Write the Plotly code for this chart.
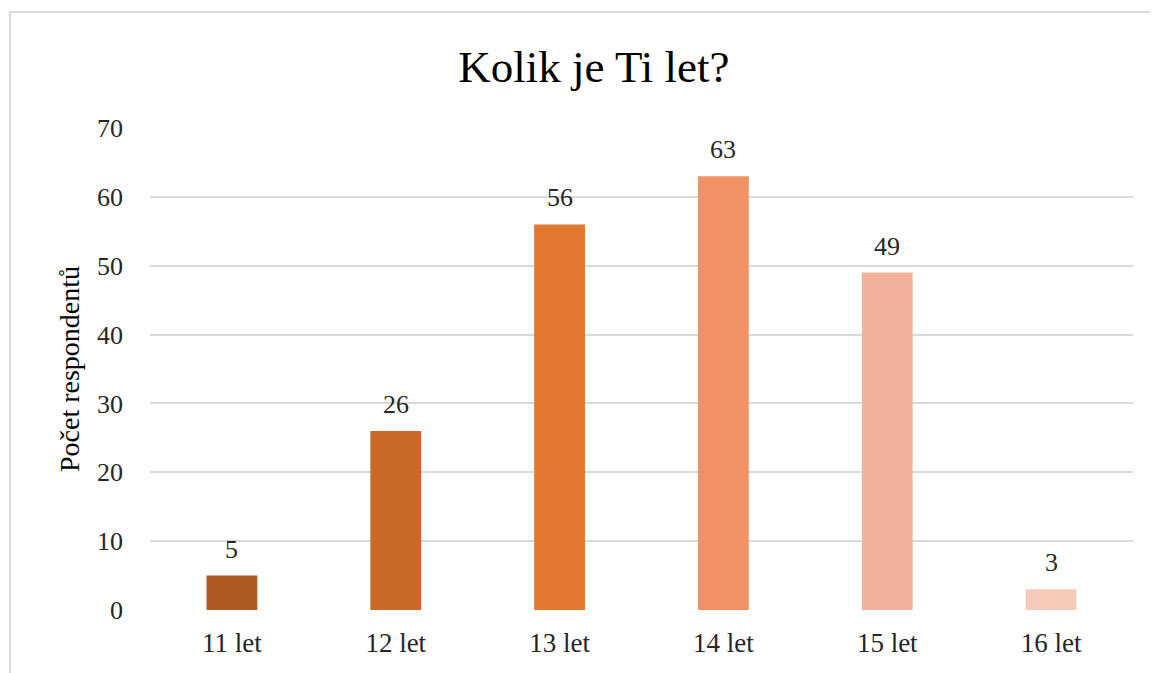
import plotly.graph_objects as go

categories = ["11 let", "12 let", "13 let", "14 let", "15 let", "16 let"]
values = [5, 26, 56, 63, 49, 3]
colors = ["#AE5A22", "#C96A29", "#E0782F", "#F09265", "#F2B19B", "#F6C9B9"]
y_ticks = [0, 10, 20, 30, 40, 50, 60, 70]

font_family = "Liberation Serif, Times New Roman, serif"
text_color = "#262626"

fig = go.Figure(go.Bar(
    x=categories, y=values,
    marker=dict(color=colors, line=dict(width=0)),
    hoverinfo="x+y",
))

for c, v in zip(categories, values):
    fig.add_annotation(x=c, y=v, text=str(v), showarrow=False,
                       yanchor="bottom", yshift=10,
                       font=dict(family=font_family, size=26, color=text_color))

fig.update_layout(
    width=1158, height=673,
    margin=dict(l=142, r=33, t=120, b=71),
    paper_bgcolor="white", plot_bgcolor="white",
    bargap=0.69,
    showlegend=False,
    title=dict(text="Kolik je Ti let?", x=0.506, xanchor="center", y=0.913, yanchor="middle",
               font=dict(family=font_family, size=45, color="#000000")),
    font=dict(family=font_family, size=26, color=text_color),
    xaxis=dict(showgrid=False, showline=False, ticks="", ticklabelstandoff=14,
               tickfont=dict(size=27, color=text_color)),
    yaxis=dict(range=[0, 70], tickvals=y_ticks, showgrid=True, gridcolor="#D9D9D9", gridwidth=2,
               zeroline=False, showline=False, ticks="", ticklabelstandoff=26,
               tickfont=dict(size=26, color=text_color),
               title=dict(text="Počet respondentů", standoff=9,
                          font=dict(family=font_family, size=28, color="#000000"))),
    shapes=[dict(type="rect", xref="paper", yref="paper",
                 x0=(10 - 150) / 983, x1=(1170 - 150) / 983,
                 y0=(610 - 690) / 482, y1=(610 - 12) / 482,
                 line=dict(color="#D9D9D9", width=2), fillcolor="rgba(0,0,0,0)", layer="below")],
)

fig.write_html("out.html")
